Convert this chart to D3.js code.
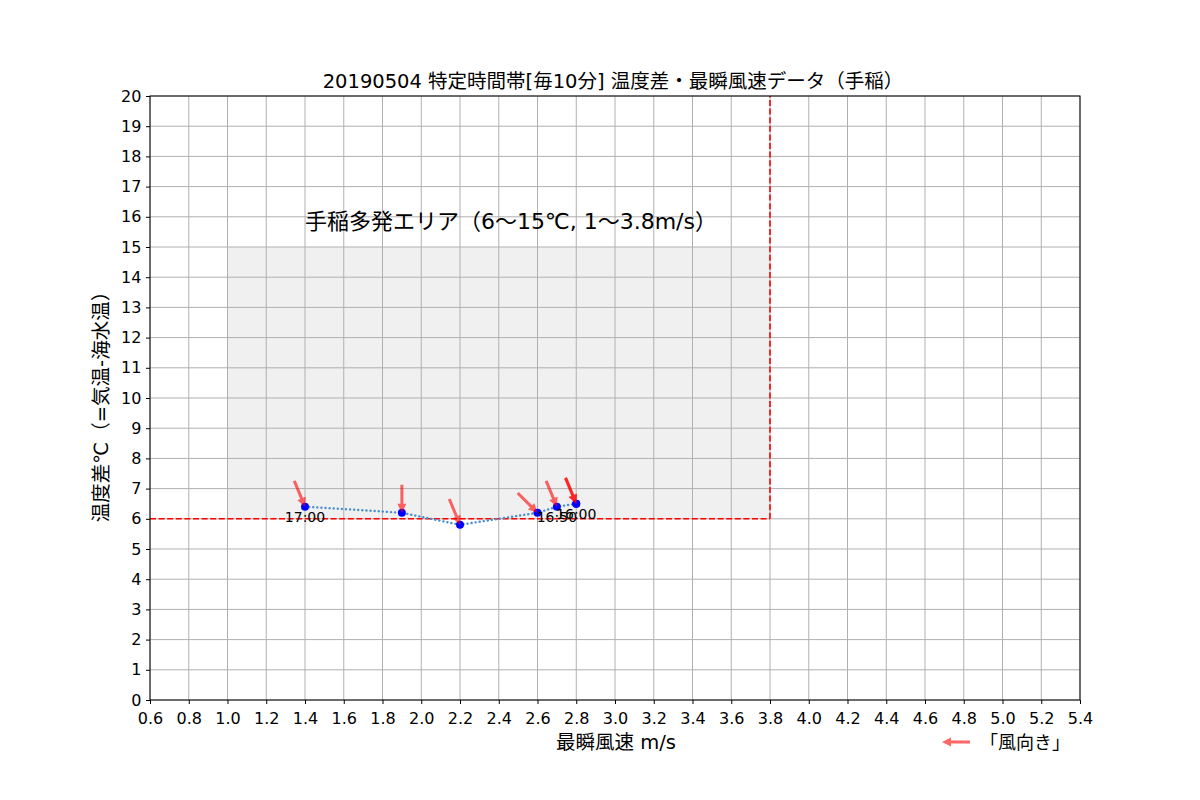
<!DOCTYPE html>
<html><head><meta charset="utf-8">
<script src="https://cdn.jsdelivr.net/npm/d3@7"></script>
<style>body{margin:0;background:#fff;}svg{display:block;}</style>
</head><body>
<svg id="chart" width="1200" height="800"></svg>
<script>
const titleText = "20190504 特定時間帯[毎10分] 温度差・最瞬風速データ（手稲）";
const xLabel = "最瞬風速 m/s";
const yLabel = "温度差℃（=気温-海水温）";
const areaLabel = "手稲多発エリア（6～15℃, 1～3.8m/s）";
const legendLabel = "「風向き」";
const xTicks = [0.6,0.8,1.0,1.2,1.4,1.6,1.8,2.0,2.2,2.4,2.6,2.8,3.0,3.2,3.4,3.6,3.8,4.0,4.2,4.4,4.6,4.8,5.0,5.2,5.4];
const yTicks = d3.range(0, 21, 1);
const speeds = [1.4, 1.9, 2.2, 2.6, 2.7, 2.8, 2.8];
const temps  = [6.4, 6.2, 5.8, 6.2, 6.4, 6.5, 6.5];
const timeLabels = ["17:00", "", "", "", "16:50", "16:00", ""];
const windDirs = [337.5, 0, 337.5, 315, 337.5, 337.5, 337.5];
const areaX = [1.0, 3.8];
const areaY = [6, 15];

const svg = d3.select("#chart");
const m = {l:150, r:1080, t:96, b:700};
const x = d3.scaleLinear().domain([0.6, 5.4]).range([m.l, m.r]);
const y = d3.scaleLinear().domain([0, 20]).range([m.b, m.t]);
const jp = "'DejaVu Sans', 'Noto Sans CJK JP', sans-serif";
const num = "'DejaVu Sans', 'Noto Sans CJK JP', sans-serif";

// gray area
svg.append("rect")
  .attr("x", x(areaX[0])).attr("y", y(areaY[1]))
  .attr("width", x(areaX[1]) - x(areaX[0]))
  .attr("height", y(areaY[0]) - y(areaY[1]))
  .attr("fill", "#f0f0f0");

// grid
svg.append("g").selectAll("line").data(xTicks).join("line")
  .attr("x1", d => x(d)).attr("x2", d => x(d)).attr("y1", m.t).attr("y2", m.b)
  .attr("stroke", "#b0b0b0").attr("stroke-width", 1);
svg.append("g").selectAll("line").data(yTicks).join("line")
  .attr("y1", d => y(d)).attr("y2", d => y(d)).attr("x1", m.l).attr("x2", m.r)
  .attr("stroke", "#b0b0b0").attr("stroke-width", 1);

// red dashed lines
svg.append("line")
  .attr("x1", x(0.6)).attr("x2", x(areaX[1])).attr("y1", y(areaY[0])).attr("y2", y(areaY[0]))
  .attr("stroke", "#ff0000").attr("stroke-width", 1.6).attr("stroke-dasharray", "6,2.6");
svg.append("line")
  .attr("x1", x(areaX[1])).attr("x2", x(areaX[1])).attr("y1", y(areaY[0])).attr("y2", y(20))
  .attr("stroke", "#ff0000").attr("stroke-width", 1.6).attr("stroke-dasharray", "6,2.6");

// area label
svg.append("text").attr("x", x(1.4)).attr("y", y(15.6))
  .attr("font-family", jp).attr("font-size", 22).attr("fill", "#000")
  .text(areaLabel);

// dotted line
const lineGen = d3.line().x((d,i) => x(speeds[i])).y((d,i) => y(temps[i]));
svg.append("path").datum(speeds).attr("d", lineGen)
  .attr("fill", "none").attr("stroke", "#4a8fcc").attr("stroke-width", 2.4)
  .attr("stroke-dasharray", "0.1,4").attr("stroke-linecap", "round");

// points
svg.append("g").selectAll("circle").data(speeds).join("circle")
  .attr("cx", (d,i) => x(speeds[i])).attr("cy", (d,i) => y(temps[i]))
  .attr("r", 4).attr("fill", "#0000ff");

// time labels
svg.append("g").selectAll("text").data(timeLabels).join("text")
  .attr("x", (d,i) => x(speeds[i])).attr("y", (d,i) => y(temps[i]) + 15)
  .attr("text-anchor", "middle").attr("font-family", num).attr("font-size", 14)
  .text(d => d);

// arrows
function arrowPath(len) {
  const sw = 1.5, hw = 4.5, hl = 9;
  return `M0,0 L${-hl},${-hw} L${-hl},${-sw} L${-len},${-sw} L${-len},${sw} L${-hl},${sw} L${-hl},${hw} Z`;
}
svg.append("g").selectAll("path").data(windDirs).join("path")
  .attr("d", arrowPath(28))
  .attr("transform", (d,i) => {
    const bearing = d + 180;
    const rot = bearing - 90;
    return `translate(${x(speeds[i])},${y(temps[i])}) rotate(${rot})`;
  })
  .attr("fill", "rgba(255,0,0,0.6)");

// axes
const xAxis = d3.axisBottom(x).tickValues(xTicks).tickFormat(d3.format(".1f")).tickSizeOuter(0).tickSize(4);
const yAxis = d3.axisLeft(y).tickValues(yTicks).tickFormat(d3.format("d")).tickSizeOuter(0).tickSize(4);
const gx = svg.append("g").attr("transform", `translate(0,${m.b})`).call(xAxis);
const gy = svg.append("g").attr("transform", `translate(${m.l},0)`).call(yAxis);
[gx, gy].forEach(g => {
  g.select(".domain").remove();
  g.selectAll("line").attr("stroke", "#000");
  g.selectAll("text").attr("font-family", num).attr("font-size", 16).attr("fill", "#000");
});
gx.selectAll("text").attr("dy", "1.05em");
gy.selectAll("text").attr("dx", "-0.1em");

svg.append("rect").attr("x", m.l).attr("y", m.t).attr("width", m.r - m.l).attr("height", m.b - m.t)
  .attr("fill", "none").attr("stroke", "#000").attr("stroke-width", 1);

// title & labels
svg.append("text").attr("x", 613).attr("y", 88).attr("text-anchor", "middle")
  .attr("font-family", jp).attr("font-size", 19.5).text(titleText);
svg.append("text").attr("x", 616).attr("y", 749).attr("text-anchor", "middle")
  .attr("font-family", jp).attr("font-size", 19.5).text(xLabel);
svg.append("text").attr("transform", `translate(108,${(m.t + m.b)/2 + 4}) rotate(-90)`)
  .attr("text-anchor", "middle").attr("font-family", jp).attr("font-size", 19.5).text(yLabel);

// legend
svg.append("path").attr("d", arrowPath(28))
  .attr("transform", `translate(942,742) rotate(180)`)
  .attr("fill", "rgba(255,0,0,0.6)");
svg.append("text").attr("x", 980).attr("y", 749).attr("font-family", jp).attr("font-size", 18)
  .text(legendLabel);
</script>
</body></html>
